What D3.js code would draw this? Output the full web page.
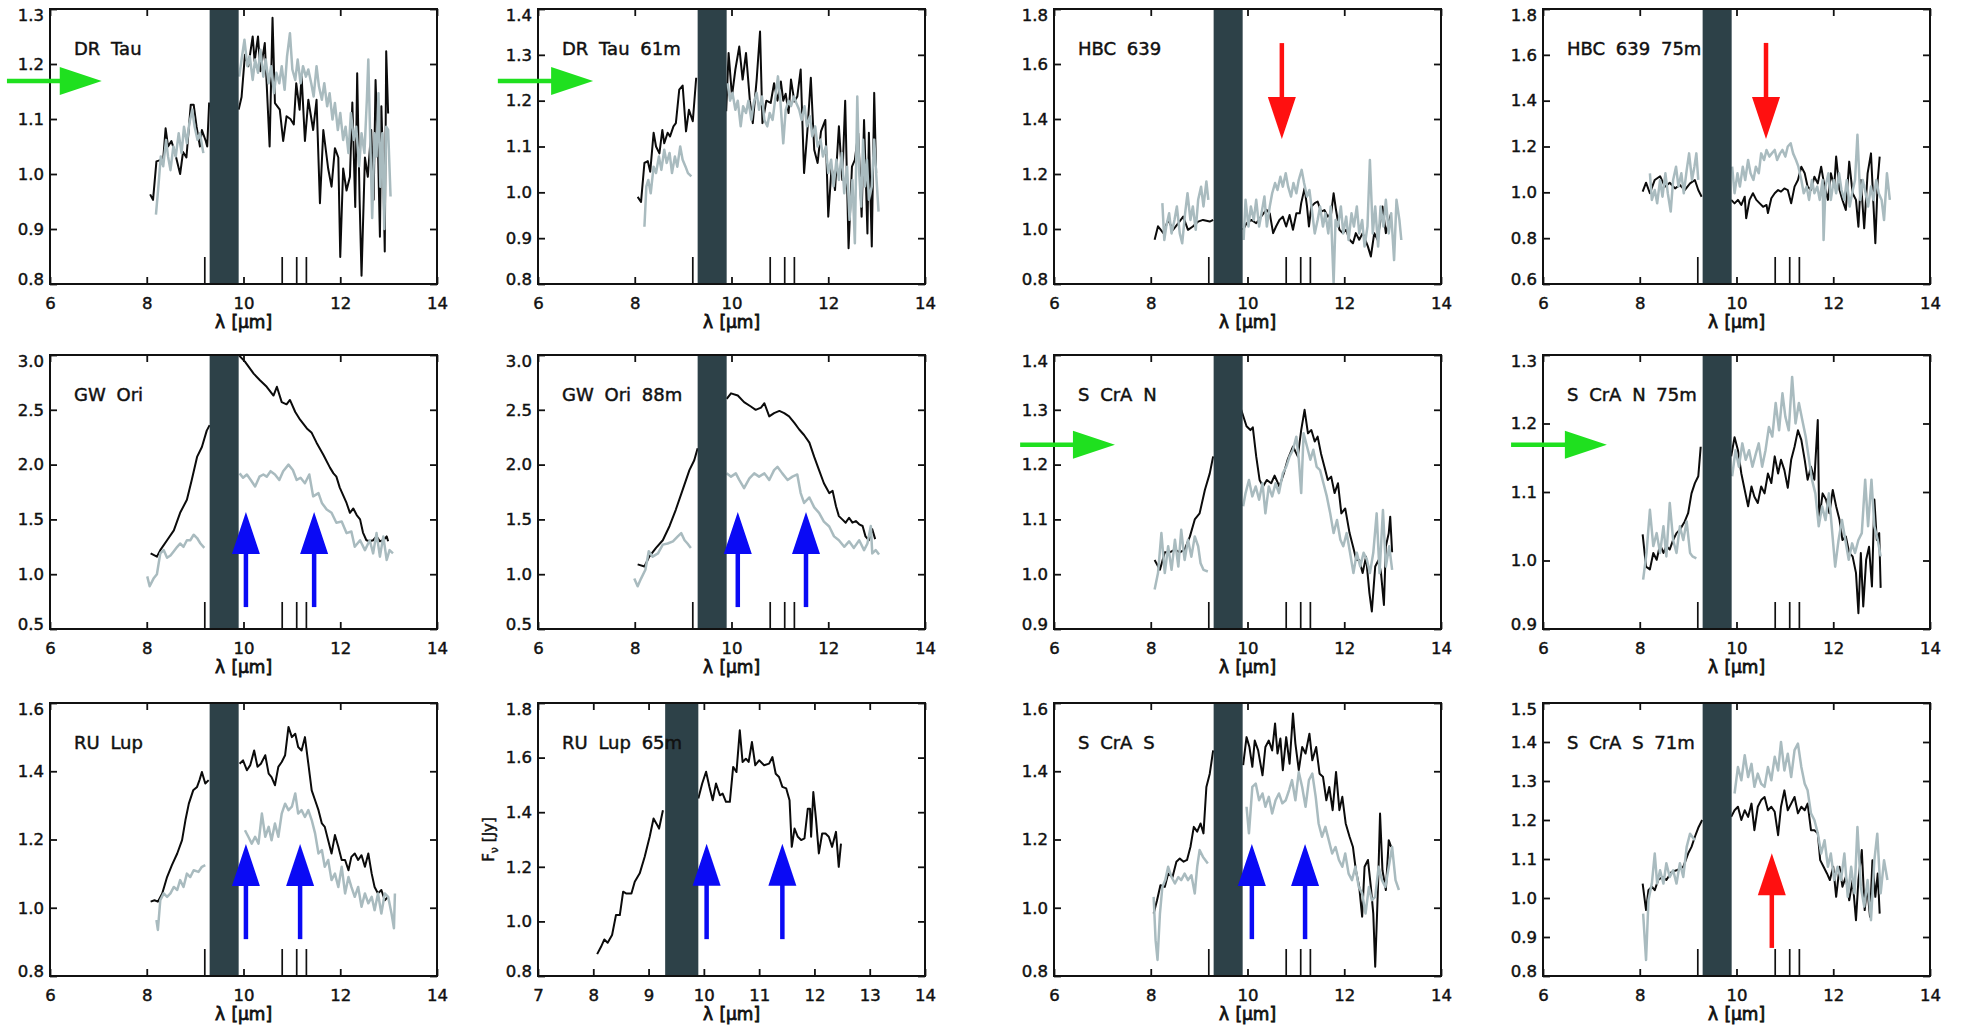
<!DOCTYPE html>
<html>
<head>
<meta charset="utf-8">
<script src="https://cdn.jsdelivr.net/npm/d3@7"></script>
<style>
  body { margin: 0; background: #fff; }
  svg { display: block; }
  text { font-family: "DejaVu Sans", sans-serif; fill: #111; stroke: #111; stroke-width: 0.45px; }
</style>
</head>
<body>
<svg id="fig" width="1961" height="1027"></svg>
<script>
// ---- Spectra: [wavelength (µm), flux (Jy)], null marks a break in coverage ----
const drTauBlack = [[8.07,0.963],[8.13,0.953],[8.20,1.023],[8.34,1.027],[8.39,1.083],[8.44,1.050],[8.51,1.060],[8.58,1.040],[8.69,1.000],[8.75,1.040],[8.82,1.030],[8.91,1.126],[8.97,1.126],[9.03,1.086],[9.10,1.050],[9.14,1.080],[9.22,1.060],[9.25,1.050],[9.29,1.130],null,
  [9.90,1.117],[9.96,1.140],[10.03,1.217],[10.10,1.196],[10.19,1.250],[10.23,1.205],[10.30,1.250],[10.35,1.187],[10.44,1.238],[10.54,1.050],[10.60,1.284],[10.65,1.129],[10.75,1.117],[10.82,1.060],[10.89,1.105],[10.97,1.100],[11.04,1.090],[11.09,1.165],[11.16,1.117],[11.20,1.180],[11.27,1.060],[11.34,1.135],[11.44,1.080],[11.51,1.135],[11.58,0.947],[11.65,1.080],[11.75,1.010],[11.82,0.977],[11.89,1.047],[11.96,1.030],[12.00,0.849],[12.06,1.010],[12.13,0.970],[12.20,0.995],[12.25,1.130],[12.31,0.940],[12.35,1.183],[12.40,0.953],[12.44,0.815],[12.51,1.030],[12.57,0.995],[12.64,1.080],[12.69,0.953],[12.73,1.171],[12.78,1.045],[12.82,0.886],[12.85,1.123],[12.89,1.000],[12.92,0.859],[12.95,1.223],[12.99,1.110]];
const drTauGray = [[8.19,0.926],[8.24,0.977],[8.29,1.032],[8.34,1.014],[8.40,1.062],[8.44,1.032],[8.49,1.007],[8.55,1.050],[8.60,1.032],[8.66,1.074],[8.72,1.038],[8.77,1.086],[8.83,1.056],[8.88,1.092],[8.94,1.117],[8.99,1.086],[9.05,1.062],[9.10,1.074],[9.17,1.038],null,
  [9.91,1.177],[9.97,1.214],[10.02,1.244],[10.08,1.196],[10.13,1.214],[10.19,1.171],[10.24,1.208],[10.30,1.184],[10.35,1.226],[10.41,1.177],[10.46,1.208],[10.52,1.165],[10.57,1.196],[10.63,1.147],[10.68,1.184],[10.74,1.165],[10.79,1.196],[10.85,1.153],[10.90,1.214],[10.96,1.256],[11.01,1.190],[11.07,1.171],[11.12,1.208],[11.18,1.165],[11.23,1.196],[11.29,1.177],[11.34,1.190],[11.40,1.165],[11.45,1.141],[11.51,1.196],[11.56,1.159],[11.62,1.135],[11.67,1.165],[11.73,1.123],[11.78,1.147],[11.84,1.099],[11.89,1.129],[11.95,1.080],[12.00,1.111],[12.06,1.062],[12.11,1.086],[12.17,1.038],[12.22,1.111],[12.28,1.062],[12.33,1.086],[12.39,1.014],[12.44,1.074],[12.50,1.038],[12.55,1.135],[12.58,1.208],[12.62,1.062],[12.66,0.920],[12.71,1.074],[12.75,1.032],[12.79,1.147],[12.83,0.977],[12.87,1.074],[12.91,0.900],[12.95,1.086],[12.99,1.080],[13.04,0.959]];

const drTau61Black = [[8.06,0.990],[8.13,0.979],[8.20,1.064],[8.27,1.068],[8.32,1.045],[8.39,1.130],[8.44,1.100],[8.51,1.085],[8.57,1.136],[8.61,1.107],[8.68,1.130],[8.73,1.122],[8.80,1.144],[8.85,1.151],[8.92,1.224],[8.99,1.233],[9.06,1.133],[9.12,1.180],[9.20,1.155],[9.27,1.250],null,
  [9.89,1.177],[9.94,1.304],[10.01,1.210],[10.08,1.268],[10.16,1.318],[10.23,1.246],[10.30,1.304],[10.38,1.200],[10.44,1.151],[10.52,1.246],[10.59,1.351],[10.64,1.151],[10.72,1.200],[10.81,1.195],[10.88,1.238],[10.95,1.200],[11.02,1.242],[11.07,1.200],[11.12,1.215],[11.18,1.173],[11.23,1.246],[11.30,1.198],[11.36,1.209],[11.43,1.268],[11.50,1.042],[11.57,1.136],[11.64,1.250],[11.71,1.093],[11.78,1.064],[11.85,1.133],[11.94,1.158],[12.00,0.947],[12.07,1.056],[12.14,1.005],[12.22,1.144],[12.29,1.027],[12.35,1.200],[12.42,0.878],[12.49,1.056],[12.55,1.071],[12.62,1.129],[12.69,0.947],[12.74,1.158],[12.81,0.910],[12.84,1.130],[12.90,0.882],[12.95,1.217],[12.99,1.042]];
const drTau61Gray = [[8.20,0.925],[8.24,1.013],[8.28,1.027],[8.33,0.998],[8.39,1.056],[8.44,1.042],[8.50,1.078],[8.55,1.049],[8.61,1.093],[8.66,1.064],[8.72,1.086],[8.77,1.042],[8.83,1.078],[8.88,1.056],[8.94,1.100],[8.99,1.071],[9.05,1.056],[9.10,1.042],[9.17,1.035],null,
  [9.92,1.238],[9.97,1.200],[10.02,1.217],[10.08,1.180],[10.13,1.200],[10.19,1.144],[10.24,1.188],[10.30,1.173],[10.35,1.200],[10.41,1.158],[10.46,1.195],[10.52,1.217],[10.57,1.180],[10.63,1.209],[10.68,1.158],[10.74,1.144],[10.79,1.173],[10.85,1.158],[10.90,1.200],[10.96,1.253],[11.01,1.200],[11.07,1.107],[11.12,1.180],[11.18,1.200],[11.23,1.188],[11.29,1.209],[11.34,1.195],[11.40,1.180],[11.45,1.158],[11.51,1.188],[11.56,1.144],[11.62,1.166],[11.67,1.122],[11.73,1.144],[11.78,1.100],[11.84,1.115],[11.89,1.078],[11.95,1.100],[12.00,1.042],[12.06,1.071],[12.11,1.013],[12.17,1.071],[12.22,1.027],[12.28,1.086],[12.33,0.998],[12.39,1.056],[12.44,0.940],[12.50,1.027],[12.55,0.889],[12.60,1.209],[12.64,1.042],[12.68,0.969],[12.72,1.115],[12.76,1.013],[12.80,1.071],[12.84,0.984],[12.90,1.013],[12.95,1.115],[12.99,1.042],[13.04,0.958]];

const hbc639Black = [[8.08,0.961],[8.15,1.010],[8.26,0.985],[8.36,1.033],[8.46,0.997],[8.57,1.021],[8.67,1.045],[8.77,0.997],[8.87,1.009],[8.98,1.027],[9.08,1.033],[9.22,1.027],[9.29,1.033],null,
  [9.91,0.997],[9.98,1.021],[10.08,1.033],[10.18,1.021],[10.28,1.045],[10.39,1.070],[10.46,1.057],[10.53,0.985],[10.59,1.009],[10.66,1.033],[10.73,1.045],[10.80,1.009],[10.87,1.051],[10.94,0.997],[11.01,1.057],[11.08,1.057],[11.11,1.094],[11.18,1.148],[11.23,1.082],[11.27,1.009],[11.32,1.082],[11.39,1.094],[11.45,1.100],[11.52,1.063],[11.59,1.069],[11.66,1.045],[11.73,1.057],[11.78,1.130],[11.83,1.069],[11.90,0.997],[11.97,0.985],[12.04,0.997],[12.11,0.961],[12.18,0.948],[12.24,0.985],[12.31,0.961],[12.38,0.985],[12.49,0.936],[12.55,0.900],[12.62,0.985],[12.69,0.961],[12.79,1.082],[12.86,0.985],[12.97,1.057]];
const hbc639Gray = [[8.24,1.094],[8.28,0.960],[8.32,1.009],[8.38,1.057],[8.43,0.984],[8.49,1.033],[8.54,1.082],[8.60,0.984],[8.65,0.948],[8.71,1.057],[8.76,1.130],[8.82,1.033],[8.87,1.082],[8.93,0.997],[8.98,1.106],[9.04,1.154],[9.09,1.082],[9.15,1.173],[9.19,1.106],null,
  [9.92,0.960],[9.96,1.106],[10.02,1.009],[10.07,1.082],[10.13,1.033],[10.18,1.106],[10.24,1.009],[10.29,1.057],[10.35,1.118],[10.40,1.009],[10.46,1.082],[10.51,1.130],[10.57,1.167],[10.62,1.142],[10.68,1.190],[10.73,1.154],[10.79,1.203],[10.84,1.154],[10.90,1.118],[10.95,1.167],[11.01,1.130],[11.06,1.179],[11.12,1.215],[11.17,1.167],[11.23,1.118],[11.28,1.142],[11.34,1.057],[11.39,0.984],[11.45,1.033],[11.50,1.082],[11.56,1.009],[11.61,1.057],[11.67,0.984],[11.72,1.082],[11.78,0.802],[11.82,1.033],[11.87,1.009],[11.93,1.082],[11.98,0.984],[12.04,1.045],[12.09,0.960],[12.15,1.057],[12.20,1.009],[12.26,1.082],[12.31,0.984],[12.37,1.033],[12.42,0.936],[12.48,1.009],[12.53,1.251],[12.59,0.984],[12.64,1.082],[12.70,0.936],[12.75,1.082],[12.81,1.009],[12.86,1.106],[12.92,0.984],[12.97,1.057],[13.03,0.887],[13.08,1.106],[13.14,1.033],[13.18,0.960]];

const hbc639m75Black = [[8.06,1.003],[8.13,1.042],[8.21,0.996],[8.31,1.054],[8.42,1.070],[8.52,1.025],[8.62,1.042],[8.73,1.017],[8.83,1.032],[8.93,1.010],[9.04,1.039],[9.14,1.054],[9.21,1.010],[9.28,0.981],null,
  [9.89,0.967],[9.96,0.952],[10.03,0.967],[10.10,0.945],[10.17,0.981],[10.20,0.887],[10.27,0.967],[10.34,0.996],[10.41,0.967],[10.48,0.952],[10.55,0.937],[10.62,0.945],[10.65,0.910],[10.72,0.974],[10.79,0.996],[10.86,1.010],[10.92,1.003],[10.99,1.017],[11.06,1.010],[11.13,0.952],[11.20,1.025],[11.27,1.054],[11.34,1.112],[11.41,1.083],[11.47,1.025],[11.54,1.010],[11.61,1.068],[11.68,1.039],[11.75,1.112],[11.82,1.025],[11.89,0.967],[11.95,1.083],[12.02,1.025],[12.06,1.156],[12.13,1.010],[12.19,0.967],[12.26,0.923],[12.33,1.134],[12.40,0.996],[12.47,0.967],[12.52,0.850],[12.57,1.054],[12.64,0.843],[12.71,1.083],[12.78,1.170],[12.83,0.952],[12.87,0.778],[12.92,1.054],[12.96,1.156]];
const hbc639m75Gray = [[8.21,1.083],[8.25,0.967],[8.31,1.010],[8.36,0.952],[8.42,1.054],[8.47,0.981],[8.53,1.083],[8.58,0.996],[8.64,0.916],[8.69,1.054],[8.75,1.112],[8.80,1.025],[8.86,1.083],[8.91,0.996],[8.97,1.097],[9.02,1.170],[9.08,1.054],[9.13,1.112],[9.17,1.170],[9.21,1.054],null,
  [9.91,1.112],[9.96,0.996],[10.02,1.083],[10.07,1.025],[10.13,1.112],[10.18,1.054],[10.24,1.141],[10.29,1.083],[10.35,1.054],[10.40,1.112],[10.46,1.083],[10.51,1.170],[10.57,1.141],[10.62,1.185],[10.68,1.156],[10.73,1.170],[10.79,1.185],[10.84,1.141],[10.90,1.170],[10.95,1.185],[11.01,1.156],[11.06,1.200],[11.12,1.214],[11.17,1.170],[11.23,1.141],[11.28,1.112],[11.34,1.054],[11.39,0.996],[11.45,1.025],[11.50,0.967],[11.56,1.054],[11.61,0.996],[11.67,1.025],[11.72,0.967],[11.78,1.054],[11.80,0.792],[11.84,1.025],[11.90,1.083],[11.95,0.967],[12.01,1.054],[12.06,0.996],[12.12,1.083],[12.17,1.010],[12.23,0.967],[12.28,1.054],[12.34,0.938],[12.39,0.996],[12.45,1.054],[12.50,1.251],[12.56,0.967],[12.61,1.054],[12.67,0.996],[12.72,0.938],[12.78,1.025],[12.83,0.967],[12.89,1.054],[12.94,0.996],[13.00,0.967],[13.05,0.879],[13.11,1.083],[13.17,0.967]];

const gwOriBlack = [[8.08,1.19],[8.21,1.16],[8.28,1.22],[8.42,1.31],[8.56,1.40],[8.69,1.56],[8.83,1.68],[8.93,1.86],[9.04,2.07],[9.14,2.16],[9.24,2.31],[9.30,2.36],null,
  [9.90,3.00],[10.03,2.94],[10.21,2.83],[10.34,2.77],[10.48,2.71],[10.62,2.63],[10.69,2.71],[10.79,2.57],[10.89,2.55],[10.96,2.59],[11.07,2.48],[11.17,2.41],[11.31,2.33],[11.41,2.29],[11.51,2.20],[11.65,2.09],[11.79,1.97],[11.86,1.92],[11.92,1.89],[11.99,1.79],[12.13,1.65],[12.20,1.56],[12.27,1.60],[12.34,1.54],[12.41,1.50],[12.47,1.38],[12.54,1.31],[12.61,1.30],[12.68,1.31],[12.75,1.345],[12.82,1.30],[12.89,1.31],[12.96,1.345],[12.99,1.30]];
const gwOriGray = [[8.01,0.98],[8.06,0.89],[8.14,0.96],[8.21,1.00],[8.28,1.19],[8.35,1.22],[8.42,1.15],[8.49,1.17],[8.56,1.21],[8.63,1.25],[8.69,1.28],[8.76,1.25],[8.83,1.31],[8.90,1.31],[8.97,1.36],[9.04,1.33],[9.11,1.28],[9.19,1.24],null,
  [9.92,1.92],[9.99,1.88],[10.07,1.91],[10.15,1.86],[10.24,1.80],[10.33,1.89],[10.41,1.91],[10.48,1.89],[10.56,1.94],[10.65,1.91],[10.74,1.86],[10.82,1.94],[10.93,2.00],[11.02,1.95],[11.10,1.86],[11.18,1.88],[11.27,1.83],[11.36,1.91],[11.44,1.71],[11.55,1.74],[11.62,1.65],[11.72,1.59],[11.82,1.56],[11.92,1.47],[12.03,1.48],[12.13,1.375],[12.23,1.39],[12.30,1.25],[12.41,1.31],[12.51,1.22],[12.61,1.31],[12.68,1.19],[12.75,1.375],[12.82,1.16],[12.89,1.345],[12.96,1.13],[13.02,1.22],[13.09,1.19]];

const gwOri88Black = [[8.06,1.09],[8.20,1.07],[8.30,1.16],[8.44,1.24],[8.58,1.31],[8.72,1.44],[8.85,1.59],[8.99,1.77],[9.13,1.95],[9.23,2.04],[9.30,2.15],null,
  [9.90,2.60],[9.99,2.65],[10.13,2.63],[10.26,2.57],[10.40,2.53],[10.50,2.50],[10.61,2.52],[10.68,2.56],[10.78,2.44],[10.88,2.47],[10.99,2.49],[11.09,2.47],[11.19,2.44],[11.30,2.38],[11.40,2.32],[11.50,2.27],[11.61,2.20],[11.71,2.07],[11.81,1.95],[11.91,1.83],[12.02,1.74],[12.09,1.76],[12.16,1.62],[12.22,1.53],[12.29,1.50],[12.36,1.47],[12.43,1.515],[12.50,1.47],[12.57,1.485],[12.64,1.455],[12.71,1.44],[12.77,1.345],[12.84,1.31],[12.91,1.41],[12.97,1.32]];
const gwOri88Gray = [[7.99,0.96],[8.06,0.89],[8.13,0.96],[8.22,1.04],[8.29,1.21],[8.37,1.16],[8.48,1.19],[8.58,1.27],[8.68,1.28],[8.79,1.30],[8.89,1.345],[8.96,1.375],[9.03,1.31],[9.09,1.28],[9.16,1.24],null,
  [9.90,1.92],[9.99,1.89],[10.09,1.92],[10.16,1.86],[10.26,1.785],[10.37,1.875],[10.47,1.92],[10.57,1.89],[10.68,1.92],[10.78,1.86],[10.88,1.95],[10.95,1.98],[11.05,1.92],[11.16,1.86],[11.26,1.89],[11.36,1.91],[11.43,1.74],[11.50,1.65],[11.61,1.70],[11.71,1.61],[11.81,1.56],[11.91,1.48],[12.02,1.435],[12.12,1.345],[12.22,1.31],[12.33,1.25],[12.43,1.30],[12.53,1.24],[12.64,1.31],[12.74,1.22],[12.81,1.28],[12.88,1.44],[12.91,1.19],[12.98,1.22],[13.05,1.18]];

const scraNBlack = [[8.08,1.026],[8.19,1.008],[8.29,1.040],[8.39,1.040],[8.50,1.045],[8.60,1.040],[8.70,1.045],[8.81,1.069],[8.91,1.100],[9.01,1.111],[9.12,1.154],[9.22,1.184],[9.29,1.215],null,
  [9.87,1.300],[9.98,1.270],[10.06,1.263],[10.11,1.268],[10.18,1.215],[10.25,1.172],[10.32,1.160],[10.40,1.172],[10.49,1.166],[10.56,1.180],[10.66,1.160],[10.75,1.184],[10.83,1.209],[10.94,1.233],[11.04,1.215],[11.11,1.263],[11.18,1.300],[11.25,1.257],[11.32,1.263],[11.39,1.242],[11.45,1.251],[11.52,1.220],[11.59,1.196],[11.66,1.172],[11.73,1.178],[11.80,1.148],[11.87,1.166],[11.94,1.111],[12.02,1.120],[12.11,1.075],[12.18,1.051],[12.25,1.026],[12.31,1.026],[12.38,1.002],[12.45,1.032],[12.52,0.966],[12.57,0.932],[12.64,1.014],[12.71,1.026],[12.76,1.002],[12.82,0.944],[12.86,1.051],[12.92,1.075],[12.95,1.105],[12.99,1.040]];
const scraNGray = [[8.08,0.972],[8.15,1.002],[8.22,1.075],[8.29,1.002],[8.36,1.051],[8.43,1.008],[8.50,1.063],[8.57,1.014],[8.63,1.081],[8.70,1.026],[8.77,1.063],[8.84,1.032],[8.91,1.069],[8.98,1.051],[9.03,1.020],[9.09,1.008],[9.18,1.005],null,
  [9.91,1.124],[9.96,1.148],[10.03,1.172],[10.10,1.142],[10.17,1.160],[10.24,1.136],[10.31,1.166],[10.37,1.111],[10.44,1.160],[10.51,1.142],[10.58,1.166],[10.65,1.148],[10.73,1.184],[10.80,1.196],[10.87,1.215],[10.94,1.227],[11.01,1.251],[11.06,1.209],[11.11,1.148],[11.16,1.257],[11.23,1.233],[11.30,1.209],[11.36,1.227],[11.43,1.196],[11.50,1.190],[11.57,1.166],[11.64,1.142],[11.71,1.111],[11.78,1.075],[11.85,1.099],[11.92,1.063],[11.98,1.051],[12.05,1.075],[12.12,1.039],[12.19,1.002],[12.26,1.039],[12.33,1.014],[12.40,1.039],[12.47,1.026],[12.53,1.002],[12.60,1.039],[12.67,1.111],[12.73,1.002],[12.80,1.117],[12.86,1.014],[12.93,1.051],[12.99,1.008]];

const scraN75Black = [[8.06,1.038],[8.13,0.991],[8.21,0.987],[8.28,1.011],[8.35,1.001],[8.42,1.023],[8.49,1.011],[8.55,1.021],[8.62,1.016],[8.69,1.030],[8.76,1.040],[8.83,1.045],[8.93,1.057],[9.00,1.069],[9.07,1.098],[9.14,1.113],[9.21,1.123],[9.26,1.166],null,
  [9.89,1.152],[9.96,1.180],[10.03,1.161],[10.10,1.127],[10.17,1.103],[10.24,1.079],[10.31,1.108],[10.37,1.093],[10.44,1.084],[10.51,1.108],[10.58,1.098],[10.65,1.127],[10.72,1.113],[10.79,1.152],[10.86,1.127],[10.92,1.147],[10.99,1.132],[11.06,1.106],[11.13,1.147],[11.20,1.166],[11.27,1.190],[11.34,1.176],[11.41,1.147],[11.47,1.118],[11.54,1.137],[11.61,1.118],[11.68,1.205],[11.71,1.059],[11.78,1.098],[11.85,1.089],[11.92,1.069],[11.99,1.103],[12.06,1.079],[12.13,1.059],[12.19,1.030],[12.26,1.035],[12.33,1.011],[12.40,1.006],[12.47,0.982],[12.52,0.923],[12.57,1.011],[12.62,0.933],[12.68,1.001],[12.74,1.020],[12.80,0.962],[12.85,1.089],[12.90,1.030],[12.95,1.040],[12.98,0.960]];
const scraN75Gray = [[8.07,0.972],[8.14,1.011],[8.21,1.074],[8.28,1.021],[8.35,1.040],[8.42,1.011],[8.49,1.050],[8.55,1.006],[8.62,1.084],[8.69,1.030],[8.76,1.011],[8.83,1.050],[8.90,1.030],[8.97,1.057],[9.04,1.011],[9.09,1.006],[9.17,1.003],null,
  [9.91,1.123],[9.98,1.161],[10.05,1.137],[10.12,1.171],[10.19,1.147],[10.26,1.161],[10.33,1.137],[10.40,1.156],[10.46,1.171],[10.53,1.137],[10.60,1.161],[10.67,1.195],[10.74,1.181],[10.81,1.230],[10.88,1.190],[10.95,1.244],[11.01,1.210],[11.08,1.190],[11.15,1.268],[11.22,1.200],[11.29,1.230],[11.36,1.205],[11.43,1.181],[11.49,1.152],[11.56,1.118],[11.63,1.098],[11.70,1.050],[11.77,1.079],[11.84,1.059],[11.91,1.098],[11.98,1.040],[12.04,0.991],[12.11,1.030],[12.18,1.059],[12.25,1.030],[12.32,1.001],[12.39,1.025],[12.45,1.011],[12.52,1.030],[12.59,1.040],[12.66,1.118],[12.72,1.050],[12.79,1.118],[12.85,1.050],[12.92,1.030],[12.98,1.006]];

const ruLupBlack = [[8.08,1.018],[8.16,1.022],[8.23,1.018],[8.32,1.042],[8.42,1.090],[8.52,1.125],[8.63,1.159],[8.73,1.198],[8.80,1.257],[8.87,1.305],[8.96,1.344],[9.04,1.354],[9.09,1.374],[9.14,1.398],[9.21,1.364],[9.28,1.374],null,
  [9.92,1.422],[9.99,1.432],[10.07,1.403],[10.14,1.418],[10.22,1.461],[10.29,1.413],[10.36,1.422],[10.45,1.447],[10.52,1.393],[10.58,1.383],[10.65,1.359],[10.72,1.413],[10.79,1.427],[10.86,1.447],[10.93,1.530],[11.00,1.500],[11.07,1.510],[11.13,1.471],[11.20,1.461],[11.27,1.500],[11.34,1.422],[11.41,1.344],[11.48,1.315],[11.55,1.286],[11.62,1.247],[11.68,1.237],[11.75,1.198],[11.82,1.159],[11.89,1.213],[11.96,1.179],[12.03,1.140],[12.10,1.140],[12.17,1.110],[12.23,1.149],[12.30,1.159],[12.37,1.140],[12.44,1.154],[12.51,1.120],[12.58,1.159],[12.65,1.100],[12.71,1.061],[12.78,1.042],[12.85,1.052],[12.92,1.022],[12.99,1.032]];
const ruLupGray = [[8.20,0.964],[8.23,0.935],[8.28,1.022],[8.35,1.042],[8.42,1.032],[8.49,1.042],[8.56,1.061],[8.63,1.052],[8.69,1.081],[8.76,1.061],[8.83,1.100],[8.90,1.090],[8.97,1.110],[9.07,1.105],[9.14,1.120],[9.21,1.125],null,
  [10.03,1.227],[10.10,1.208],[10.17,1.188],[10.24,1.208],[10.31,1.188],[10.38,1.276],[10.45,1.208],[10.52,1.237],[10.58,1.198],[10.65,1.247],[10.72,1.208],[10.79,1.276],[10.86,1.305],[10.93,1.286],[11.00,1.296],[11.07,1.335],[11.13,1.276],[11.20,1.286],[11.27,1.266],[11.34,1.286],[11.41,1.257],[11.48,1.218],[11.55,1.159],[11.62,1.169],[11.68,1.120],[11.75,1.140],[11.82,1.081],[11.89,1.100],[11.96,1.061],[12.03,1.120],[12.10,1.042],[12.17,1.090],[12.23,1.061],[12.30,1.032],[12.37,1.061],[12.44,1.003],[12.51,1.042],[12.58,1.013],[12.65,1.032],[12.71,0.993],[12.78,1.042],[12.85,0.983],[12.92,1.042],[12.99,1.032],[13.06,0.983],[13.11,0.940],[13.13,1.042]];

const ruLup65Black = [[8.07,0.880],[8.14,0.907],[8.20,0.934],[8.26,0.922],[8.34,0.950],[8.41,1.023],[8.48,1.023],[8.54,1.109],[8.60,1.102],[8.69,1.102],[8.75,1.145],[8.84,1.176],[8.93,1.237],[9.02,1.310],[9.09,1.377],[9.14,1.359],[9.19,1.340],[9.26,1.407],null,
  [9.90,1.450],[9.97,1.505],[10.04,1.548],[10.10,1.493],[10.16,1.444],[10.22,1.505],[10.29,1.462],[10.34,1.468],[10.40,1.438],[10.47,1.438],[10.53,1.566],[10.59,1.547],[10.65,1.700],[10.70,1.584],[10.76,1.596],[10.81,1.584],[10.87,1.657],[10.93,1.572],[11.00,1.590],[11.09,1.572],[11.18,1.578],[11.24,1.602],[11.30,1.541],[11.36,1.529],[11.42,1.493],[11.49,1.487],[11.55,1.444],[11.59,1.273],[11.64,1.340],[11.70,1.310],[11.76,1.298],[11.82,1.304],[11.88,1.413],[11.92,1.413],[11.94,1.310],[11.98,1.474],[12.03,1.371],[12.08,1.249],[12.14,1.322],[12.20,1.322],[12.26,1.310],[12.32,1.273],[12.39,1.328],[12.44,1.200],[12.48,1.285]];

const scraSBlack = [[8.06,0.983],[8.13,1.022],[8.20,1.066],[8.29,1.061],[8.36,1.100],[8.45,1.090],[8.53,1.135],[8.60,1.144],[8.68,1.135],[8.75,1.140],[8.82,1.178],[8.89,1.237],[8.96,1.223],[9.03,1.247],[9.09,1.218],[9.15,1.354],[9.22,1.393],[9.29,1.461],null,
  [9.91,1.418],[9.98,1.500],[10.04,1.471],[10.10,1.413],[10.15,1.490],[10.22,1.461],[10.31,1.388],[10.37,1.471],[10.44,1.490],[10.51,1.461],[10.57,1.540],[10.62,1.452],[10.68,1.496],[10.73,1.403],[10.80,1.500],[10.87,1.422],[10.94,1.569],[10.99,1.481],[11.06,1.403],[11.13,1.471],[11.20,1.452],[11.28,1.510],[11.34,1.432],[11.42,1.471],[11.49,1.393],[11.56,1.384],[11.63,1.315],[11.69,1.354],[11.76,1.286],[11.83,1.398],[11.90,1.286],[11.96,1.325],[12.03,1.247],[12.11,1.208],[12.18,1.178],[12.24,1.110],[12.31,1.061],[12.37,0.974],[12.42,1.120],[12.49,1.140],[12.55,1.061],[12.60,0.983],[12.64,0.827],[12.70,1.071],[12.74,1.276],[12.79,1.110],[12.86,1.052],[12.92,1.198],[12.97,1.178]];
const scraSGray = [[8.06,1.032],[8.10,0.905],[8.14,0.847],[8.19,0.983],[8.24,1.061],[8.30,1.081],[8.36,1.120],[8.43,1.090],[8.50,1.071],[8.57,1.090],[8.63,1.081],[8.70,1.100],[8.77,1.081],[8.84,1.095],[8.91,1.042],[8.96,1.120],[9.01,1.169],[9.08,1.149],[9.18,1.130],null,
  [9.98,1.296],[10.03,1.218],[10.10,1.354],[10.17,1.364],[10.24,1.315],[10.31,1.335],[10.37,1.296],[10.44,1.325],[10.51,1.276],[10.58,1.315],[10.65,1.335],[10.72,1.306],[10.79,1.315],[10.86,1.345],[10.92,1.374],[10.99,1.315],[11.06,1.398],[11.13,1.354],[11.20,1.296],[11.27,1.374],[11.34,1.393],[11.41,1.325],[11.47,1.247],[11.54,1.208],[11.61,1.237],[11.68,1.198],[11.75,1.159],[11.82,1.178],[11.89,1.140],[11.96,1.120],[12.02,1.159],[12.09,1.100],[12.16,1.081],[12.23,1.120],[12.30,1.061],[12.37,1.042],[12.44,0.983],[12.51,1.061],[12.57,1.022],[12.64,1.032],[12.71,1.120],[12.78,1.081],[12.85,1.061],[12.92,1.120],[12.99,1.178],[13.06,1.081],[13.13,1.052]];

const scraS71Black = [[8.06,1.037],[8.13,0.969],[8.18,1.020],[8.25,1.029],[8.31,1.020],[8.38,1.046],[8.47,1.054],[8.55,1.046],[8.66,1.067],[8.76,1.071],[8.90,1.080],[9.00,1.114],[9.07,1.131],[9.14,1.157],[9.21,1.180],[9.29,1.200],null,
  [9.89,1.208],[9.96,1.225],[10.03,1.234],[10.10,1.200],[10.17,1.225],[10.24,1.208],[10.31,1.242],[10.37,1.174],[10.44,1.234],[10.51,1.251],[10.58,1.259],[10.65,1.225],[10.72,1.234],[10.79,1.221],[10.86,1.161],[10.92,1.234],[10.99,1.276],[11.06,1.225],[11.13,1.242],[11.20,1.259],[11.27,1.217],[11.34,1.234],[11.41,1.225],[11.47,1.242],[11.54,1.174],[11.61,1.174],[11.68,1.166],[11.73,1.097],[11.80,1.080],[11.87,1.063],[11.93,1.046],[12.00,1.080],[12.06,1.003],[12.13,1.080],[12.19,1.029],[12.26,1.054],[12.33,0.994],[12.40,1.046],[12.47,0.943],[12.52,1.046],[12.59,1.123],[12.65,0.969],[12.70,1.029],[12.76,0.952],[12.81,1.097],[12.87,1.003],[12.92,1.063],[12.96,0.960]];
const scraS71Gray = [[8.07,0.960],[8.13,0.841],[8.18,0.994],[8.25,1.037],[8.31,1.114],[8.36,1.037],[8.42,1.071],[8.49,1.037],[8.55,1.089],[8.62,1.054],[8.69,1.071],[8.76,1.037],[8.83,1.089],[8.90,1.054],[8.97,1.131],[9.04,1.165],[9.14,1.148],null,
  [9.96,1.268],[10.03,1.336],[10.10,1.302],[10.17,1.366],[10.24,1.310],[10.31,1.344],[10.37,1.285],[10.44,1.319],[10.51,1.293],[10.58,1.285],[10.65,1.336],[10.72,1.302],[10.79,1.362],[10.86,1.327],[10.92,1.400],[10.99,1.327],[11.06,1.370],[11.13,1.310],[11.20,1.379],[11.27,1.396],[11.34,1.336],[11.41,1.293],[11.47,1.276],[11.54,1.217],[11.61,1.200],[11.68,1.166],[11.75,1.114],[11.82,1.148],[11.89,1.080],[11.95,1.114],[12.02,1.046],[12.09,1.080],[12.16,1.046],[12.23,1.114],[12.30,1.003],[12.37,1.080],[12.44,1.012],[12.50,1.182],[12.57,1.029],[12.64,0.978],[12.71,1.046],[12.78,0.943],[12.85,1.097],[12.91,1.165],[12.98,1.012],[13.05,1.097],[13.12,1.046]];

// ---- Axis ticks ----
const xTicksStd = [6, 8, 10, 12, 14];
const xTicksRuLup65 = [7, 8, 9, 10, 11, 12, 13, 14];
const yTicks08to13 = [0.8, 0.9, 1.0, 1.1, 1.2, 1.3];
const yTicks08to14 = [0.8, 0.9, 1.0, 1.1, 1.2, 1.3, 1.4];
const yTicks08to18 = [0.8, 1.0, 1.2, 1.4, 1.6, 1.8];
const yTicks06to18 = [0.6, 0.8, 1.0, 1.2, 1.4, 1.6, 1.8];
const yTicks05to30 = [0.5, 1.0, 1.5, 2.0, 2.5, 3.0];
const yTicks09to14 = [0.9, 1.0, 1.1, 1.2, 1.3, 1.4];
const yTicks09to13 = [0.9, 1.0, 1.1, 1.2, 1.3];
const yTicks08to16 = [0.8, 1.0, 1.2, 1.4, 1.6];
const yTicks08to15 = [0.8, 0.9, 1.0, 1.1, 1.2, 1.3, 1.4, 1.5];

// Telluric ozone band and feature markers (µm)
const ozoneBand = [9.3, 9.9];
const featureMarks = [9.2, 10.8, 11.1, 11.3];

// Annotation arrows in data units: horizontal (at flux, from/to wavelength) and vertical (at wavelength, tail/tip flux)
const panels = [
  { title: "DR Tau", xd: [6, 14], yd: [0.8, 1.3], xt: xTicksStd, yt: yTicks08to13, black: drTauBlack, gray: drTauGray, marks: true,
    arrows: [{ dir: "h", color: "#1fe01f", at: 1.169, from: 5.11, to: 7.07 }] },
  { title: "DR Tau 61m", xd: [6, 14], yd: [0.8, 1.4], xt: xTicksStd, yt: yTicks08to14, black: drTau61Black, gray: drTau61Gray, marks: true,
    arrows: [{ dir: "h", color: "#1fe01f", at: 1.243, from: 5.17, to: 7.14 }] },
  { title: "HBC 639", xd: [6, 14], yd: [0.8, 1.8], xt: xTicksStd, yt: yTicks08to18, black: hbc639Black, gray: hbc639Gray, marks: true,
    arrows: [{ dir: "v", color: "#ff1010", at: 10.71, from: 1.676, to: 1.327 }] },
  { title: "HBC 639 75m", xd: [6, 14], yd: [0.6, 1.8], xt: xTicksStd, yt: yTicks06to18, black: hbc639m75Black, gray: hbc639m75Gray, marks: true,
    arrows: [{ dir: "v", color: "#ff1010", at: 10.61, from: 1.652, to: 1.233 }] },
  { title: "GW Ori", xd: [6, 14], yd: [0.5, 3.0], xt: xTicksStd, yt: yTicks05to30, black: gwOriBlack, gray: gwOriGray, marks: true,
    arrows: [{ dir: "v", color: "#0a0af5", at: 10.05, from: 0.70, to: 1.568 }, { dir: "v", color: "#0a0af5", at: 11.46, from: 0.70, to: 1.568 }] },
  { title: "GW Ori 88m", xd: [6, 14], yd: [0.5, 3.0], xt: xTicksStd, yt: yTicks05to30, black: gwOri88Black, gray: gwOri88Gray, marks: true,
    arrows: [{ dir: "v", color: "#0a0af5", at: 10.13, from: 0.70, to: 1.568 }, { dir: "v", color: "#0a0af5", at: 11.54, from: 0.70, to: 1.568 }] },
  { title: "S CrA N", xd: [6, 14], yd: [0.9, 1.4], xt: xTicksStd, yt: yTicks09to14, black: scraNBlack, gray: scraNGray, marks: true,
    arrows: [{ dir: "h", color: "#1fe01f", at: 1.236, from: 5.30, to: 7.26 }] },
  { title: "S CrA N 75m", xd: [6, 14], yd: [0.9, 1.3], xt: xTicksStd, yt: yTicks09to13, black: scraN75Black, gray: scraN75Gray, marks: true,
    arrows: [{ dir: "h", color: "#1fe01f", at: 1.169, from: 5.34, to: 7.32 }] },
  { title: "RU Lup", xd: [6, 14], yd: [0.8, 1.6], xt: xTicksStd, yt: yTicks08to16, black: ruLupBlack, gray: ruLupGray, marks: true,
    arrows: [{ dir: "v", color: "#0a0af5", at: 10.05, from: 0.908, to: 1.187 }, { dir: "v", color: "#0a0af5", at: 11.17, from: 0.908, to: 1.187 }] },
  { title: "RU Lup 65m", xd: [7, 14], yd: [0.8, 1.8], xt: xTicksRuLup65, yt: yTicks08to18, black: ruLup65Black, gray: null, marks: false, ylabel: true,
    arrows: [{ dir: "v", color: "#0a0af5", at: 10.05, from: 0.935, to: 1.284 }, { dir: "v", color: "#0a0af5", at: 11.42, from: 0.935, to: 1.284 }] },
  { title: "S CrA S", xd: [6, 14], yd: [0.8, 1.6], xt: xTicksStd, yt: yTicks08to16, black: scraSBlack, gray: scraSGray, marks: true,
    arrows: [{ dir: "v", color: "#0a0af5", at: 10.09, from: 0.908, to: 1.187 }, { dir: "v", color: "#0a0af5", at: 11.19, from: 0.908, to: 1.187 }] },
  { title: "S CrA S 71m", xd: [6, 14], yd: [0.8, 1.5], xt: xTicksStd, yt: yTicks08to15, black: scraS71Black, gray: scraS71Gray, marks: true,
    arrows: [{ dir: "v", color: "#ff1010", at: 10.73, from: 0.872, to: 1.115 }] }
];

// ---- Layout ----
const colLeft = [50, 538, 1054, 1543];
const rowTop = [9, 355, 703];
const rowH = [275, 274, 273];
const plotW = 387;
const headLen = 42, headHalf = 14, shaftW = 4.5;
const markLen = 27;

const svg = d3.select("#fig");
svg.append("rect").attr("width", 1961).attr("height", 1027).attr("fill", "#fff");

const fmt = d3.format(".1f");

panels.forEach((p, i) => {
  const c = i % 4, r = Math.floor(i / 4);
  const h = rowH[r];
  const g = svg.append("g").attr("transform", `translate(${colLeft[c]},${rowTop[r]})`);
  const x = d3.scaleLinear().domain(p.xd).range([0, plotW]);
  const y = d3.scaleLinear().domain(p.yd).range([h, 0]);

  const clipId = "clip" + i;
  g.append("clipPath").attr("id", clipId).append("rect").attr("width", plotW).attr("height", h);
  const plot = g.append("g").attr("clip-path", `url(#${clipId})`);

  const line = d3.line().defined(d => d !== null).x(d => x(d[0])).y(d => y(d[1]));
  plot.append("path").datum(p.black).attr("d", line)
    .attr("fill", "none").attr("stroke", "#0b0b0b").attr("stroke-width", 2).attr("stroke-linejoin", "round");
  if (p.gray) {
    plot.append("path").datum(p.gray).attr("d", line)
      .attr("fill", "none").attr("stroke", "#a9bbbf").attr("stroke-width", 2.5).attr("stroke-linejoin", "round");
  }

  // ozone band
  plot.append("rect")
    .attr("x", x(ozoneBand[0])).attr("y", 0)
    .attr("width", x(ozoneBand[1]) - x(ozoneBand[0])).attr("height", h)
    .attr("fill", "#2d4148");

  // feature markers along the bottom
  if (p.marks) {
    plot.selectAll("line.mark").data(featureMarks).join("line")
      .attr("x1", d => x(d)).attr("x2", d => x(d))
      .attr("y1", h).attr("y2", h - markLen)
      .attr("stroke", "#111").attr("stroke-width", 1.7);
  }

  // axes: ticks point inward on all four sides
  const ax = g.append("g").attr("class", "axes");
  const left = ax.append("g").call(d3.axisLeft(y).tickValues(p.yt).tickSize(-7).tickPadding(6).tickFormat(fmt));
  const right = ax.append("g").attr("transform", `translate(${plotW},0)`).call(d3.axisRight(y).tickValues(p.yt).tickSize(-7).tickFormat(""));
  const bottom = ax.append("g").attr("transform", `translate(0,${h})`).call(d3.axisBottom(x).tickValues(p.xt).tickSize(-7).tickPadding(13).tickFormat(d3.format("d")));
  const top = ax.append("g").call(d3.axisTop(x).tickValues(p.xt).tickSize(-7).tickFormat(""));
  [left, right, bottom, top].forEach(a => {
    a.select(".domain").remove();
    a.selectAll(".tick line").attr("stroke", "#111").attr("stroke-width", 1.8);
    a.selectAll("text").attr("font-size", 16.5).attr("fill", "#111")
      .attr("font-family", '"DejaVu Sans", sans-serif');
  });
  const yMin = p.yt[0], yMax = p.yt[p.yt.length - 1];
  left.selectAll(".tick text").attr("y", d => d === yMin ? -5 : (d === yMax ? 6 : 0));

  g.append("rect").attr("width", plotW).attr("height", h)
    .attr("fill", "none").attr("stroke", "#111").attr("stroke-width", 2);

  // title
  g.append("text").attr("x", 24).attr("y", 46)
    .attr("font-size", 18).attr("word-spacing", 5).text(p.title);

  // x label
  g.append("text").attr("x", plotW / 2).attr("y", h + 44)
    .attr("text-anchor", "middle").attr("font-size", 17).attr("word-spacing", 1)
    .style("stroke-width", "0.8px")
    .text("λ [μm]");

  if (p.ylabel) {
    const t = g.append("text")
      .attr("transform", `translate(-44,${h / 2}) rotate(-90)`)
      .attr("text-anchor", "middle").attr("font-size", 15);
    t.append("tspan").text("F");
    t.append("tspan").attr("font-size", 11).attr("dy", 4).text("ν");
    t.append("tspan").attr("dy", -4).text(" [Jy]");
  }

  // arrows
  p.arrows.forEach(a => {
    if (a.dir === "h") {
      const yy = y(a.at), x0 = x(a.from), x1 = x(a.to);
      g.append("line").attr("x1", x0).attr("x2", x1 - headLen + 1).attr("y1", yy).attr("y2", yy)
        .attr("stroke", a.color).attr("stroke-width", shaftW);
      g.append("path").attr("d", `M${x1},${yy}L${x1 - headLen},${yy - headHalf}L${x1 - headLen},${yy + headHalf}Z`)
        .attr("fill", a.color);
    } else {
      const xx = x(a.at), y0 = y(a.from), y1 = y(a.to);
      const s = y1 > y0 ? 1 : -1; // direction of travel in pixels
      g.append("line").attr("x1", xx).attr("x2", xx).attr("y1", y0).attr("y2", y1 - s * (headLen - 1))
        .attr("stroke", a.color).attr("stroke-width", shaftW);
      g.append("path").attr("d", `M${xx},${y1}L${xx - headHalf},${y1 - s * headLen}L${xx + headHalf},${y1 - s * headLen}Z`)
        .attr("fill", a.color);
    }
  });
});
</script>
</body>
</html>
